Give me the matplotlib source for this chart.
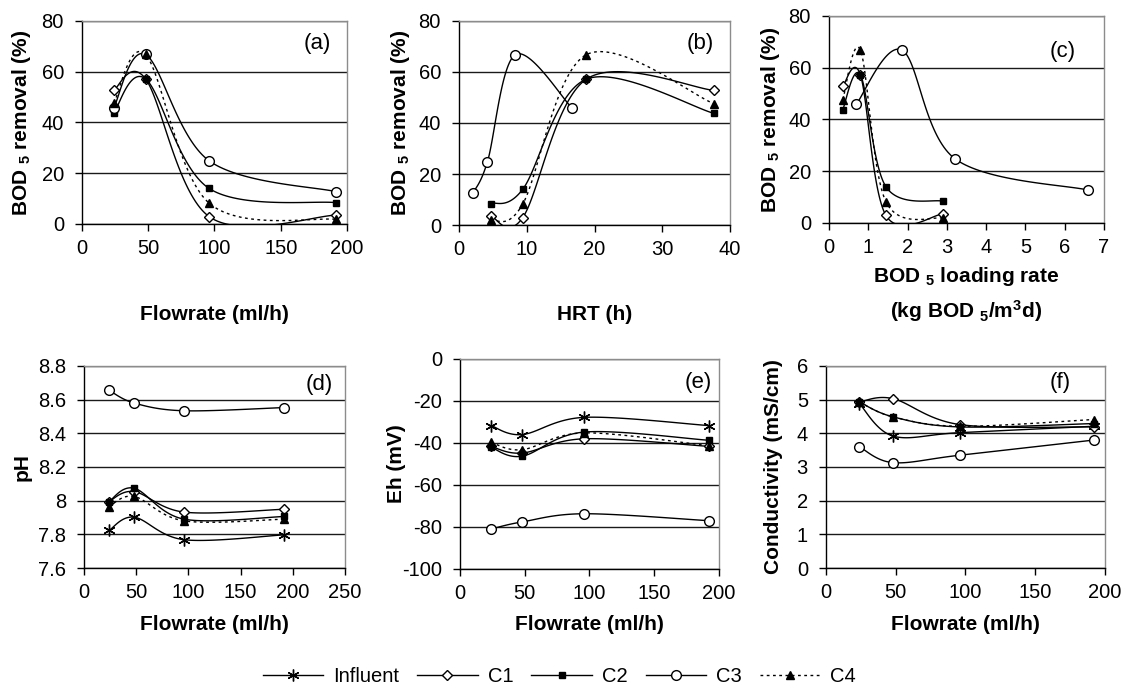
import matplotlib
matplotlib.use("Agg")
import matplotlib.pyplot as plt
import numpy as np

plt.rcParams['font.family'] = ['Liberation Sans', 'DejaVu Sans']
plt.rcParams['mathtext.fontset'] = 'custom'
plt.rcParams['mathtext.rm'] = 'Liberation Sans'
plt.rcParams['mathtext.bf'] = 'Liberation Sans:bold'
plt.rcParams['mathtext.it'] = 'Liberation Sans:italic'
plt.rcParams['axes.unicode_minus'] = False

# flowrates used in every run
flow = [24, 48, 96, 192]
hrt = [4.7, 9.4, 18.8, 37.6]          # C1, C2, C4 (flow 192, 96, 48, 24)
hrt_c3 = [2.1, 4.2, 8.3, 16.7]        # C3 (flow 192, 96, 48, 24)
olr = [0.35, 0.8, 1.45, 2.9]          # C1, C2, C4 (flow 24 .. 192)
olr_c3 = [0.69, 1.86, 3.2, 6.6]       # C3 (flow 24 .. 192)

# BOD5 removal (%) at flow 24, 48, 96, 192
bod_c1 = [52.8, 57.2, 2.9, 3.5]
bod_c2 = [43.8, 57.2, 14.0, 8.4]
bod_c3 = [45.8, 66.8, 24.9, 12.7]
bod_c4 = [47.6, 66.8, 8.2, 1.8]

# pH
ph_inf = [7.823, 7.902, 7.768, 7.797]
ph_c1 = [7.995, 8.054, 7.932, 7.949]
ph_c2 = [7.995, 8.074, 7.89, 7.906]
ph_c3 = [8.656, 8.58, 8.534, 8.553]
ph_c4 = [7.965, 8.025, 7.88, 7.89]

# Eh (mV)
eh_inf = [-31.7, -36, -27.8, -31.7]
eh_c1 = [-41.6, -44.8, -38, -41.6]
eh_c2 = [-42, -46.3, -34.8, -38.7]
eh_c3 = [-81, -77.6, -73.7, -77]
eh_c4 = [-39.7, -43.2, -35.2, -41.3]

# conductivity (mS/cm)
ec_inf = [4.88, 3.92, 4.02, 4.21]
ec_c1 = [4.93, 5.03, 4.26, 4.19]
ec_c2 = [4.93, 4.49, 4.19, 4.29]
ec_c3 = [3.6, 3.13, 3.35, 3.8]
ec_c4 = [4.93, 4.49, 4.21, 4.41]

styles = {
    'Influent': dict(marker=(6, 2, 0), ms=8.5, mfc='black', mec='black', ls='-'),
    'C1': dict(marker='D', ms=5.5, mfc='white', mec='black', ls='-'),
    'C2': dict(marker='s', ms=5, mfc='black', mec='black', ls='-'),
    'C3': dict(marker='o', ms=7, mfc='white', mec='black', ls='-'),
    'C4': dict(marker='^', ms=6, mfc='black', mec='black', ls=(0, (2, 2.5))),
}


def smooth(x, y, n=40):
    # Excel-style smoothed line (Catmull-Rom Bezier through the points)
    p = np.column_stack([x, y]).astype(float)
    q = np.vstack([p[0], p, p[-1]])
    t = np.linspace(0, 1, n)[:, None]
    segs = []
    for i in range(len(p) - 1):
        p0, p1, p2, p3 = q[i], q[i + 1], q[i + 2], q[i + 3]
        c1 = p1 + (p2 - p0) / 6
        c2 = p2 - (p3 - p1) / 6
        segs.append((1 - t) ** 3 * p1 + 3 * (1 - t) ** 2 * t * c1
                    + 3 * (1 - t) * t ** 2 * c2 + t ** 3 * p2)
    s = np.vstack(segs)
    return s[:, 0], s[:, 1]


def series(ax, x, y, name):
    st = styles[name]
    sx, sy = smooth(x, y)
    ax.plot(sx, sy, color='black', lw=1.0, ls=st['ls'], zorder=3)
    ax.plot(x, y, ls='none', marker=st['marker'], ms=st['ms'], mfc=st['mfc'],
            mec=st['mec'], mew=1.0, zorder=4)


def frame(ax, xlim, xt, ylim, yt, ylabels=None):
    ax.set_xlim(*xlim)
    ax.set_ylim(*ylim)
    ax.set_xticks(xt)
    ax.set_yticks(yt)
    if ylabels is not None:
        ax.set_yticklabels(ylabels)
    ax.grid(axis='y', color='#1a1a1a', lw=1.0)
    ax.set_axisbelow(True)
    for s in ['top', 'right']:
        ax.spines[s].set_color('#8c8c8c')
        ax.spines[s].set_linewidth(1.0)
    for s in ['left', 'bottom']:
        ax.spines[s].set_color('black')
        ax.spines[s].set_linewidth(1.0)
    ax.tick_params(direction='out', length=5, width=1, labelsize=14.5, pad=6)
    ax.tick_params(axis='y', pad=8)


fig = plt.figure(figsize=(11.21, 6.86), dpi=100)

axa = fig.add_axes([0.0731, 0.6735, 0.2364, 0.2959])
axb = fig.add_axes([0.4095, 0.6720, 0.2417, 0.2974])
axc = fig.add_axes([0.7395, 0.6750, 0.2453, 0.3017])
axd = fig.add_axes([0.0749, 0.1720, 0.2328, 0.2945])
axe = fig.add_axes([0.4103, 0.1706, 0.2310, 0.3061])
axf = fig.add_axes([0.7368, 0.1720, 0.2489, 0.2945])

lab = dict(fontsize=15, fontweight='bold')
bod_label = r'BOD $_{\mathbf{5}}$ removal (%)'
tag = dict(fontsize=16, ha='center', va='center')

# (a)
series(axa, flow, bod_c1, 'C1')
series(axa, flow, bod_c2, 'C2')
series(axa, flow, bod_c3, 'C3')
series(axa, flow, bod_c4, 'C4')
frame(axa, (0, 200), [0, 50, 100, 150, 200], (0, 80), [0, 20, 40, 60, 80])
axa.set_ylabel(bod_label, **lab)
axa.yaxis.set_label_coords(-0.185, 0.5)
axa.set_xlabel('Flowrate (ml/h)', **lab)
axa.xaxis.set_label_coords(0.5, -0.40)
axa.text(0.89, 0.89, '(a)', transform=axa.transAxes, **tag)

# (b) -- HRT rises as flowrate falls, so the flow-ordered values run backwards
series(axb, hrt, bod_c1[::-1], 'C1')
series(axb, hrt, bod_c2[::-1], 'C2')
series(axb, hrt_c3, bod_c3[::-1], 'C3')
series(axb, hrt, bod_c4[::-1], 'C4')
frame(axb, (0, 40), [0, 10, 20, 30, 40], (0, 80), [0, 20, 40, 60, 80])
axb.set_ylabel(bod_label, **lab)
axb.yaxis.set_label_coords(-0.173, 0.5)
axb.set_xlabel('HRT (h)', **lab)
axb.xaxis.set_label_coords(0.5, -0.39)
axb.text(0.89, 0.89, '(b)', transform=axb.transAxes, **tag)

# (c)
series(axc, olr, bod_c1, 'C1')
series(axc, olr, bod_c2, 'C2')
series(axc, olr_c3, bod_c3, 'C3')
series(axc, olr, bod_c4, 'C4')
frame(axc, (0, 7), range(0, 8), (0, 80), [0, 20, 40, 60, 80])
axc.set_ylabel(bod_label, **lab)
axc.yaxis.set_label_coords(-0.171, 0.5)
axc.set_xlabel('BOD $_{\\mathbf{5}}$ loading rate\n(kg BOD $_{\\mathbf{5}}$/m$^{\\mathbf{3}}$d)',
               linespacing=1.5, **lab)
axc.xaxis.set_label_coords(0.5, -0.205)
axc.text(0.85, 0.83, '(c)', transform=axc.transAxes, **tag)

# (d)
series(axd, flow, ph_inf, 'Influent')
series(axd, flow, ph_c1, 'C1')
series(axd, flow, ph_c2, 'C2')
series(axd, flow, ph_c3, 'C3')
series(axd, flow, ph_c4, 'C4')
frame(axd, (0, 250), [0, 50, 100, 150, 200, 250], (7.6, 8.8),
      [7.6, 7.8, 8.0, 8.2, 8.4, 8.6, 8.8],
      ['7.6', '7.8', '8', '8.2', '8.4', '8.6', '8.8'])
axd.set_ylabel('pH', **lab)
axd.yaxis.set_label_coords(-0.20, 0.5)
axd.set_xlabel('Flowrate (ml/h)', **lab)
axd.xaxis.set_label_coords(0.5, -0.235)
axd.text(0.90, 0.91, '(d)', transform=axd.transAxes, **tag)

# (e)
series(axe, flow, eh_inf, 'Influent')
series(axe, flow, eh_c1, 'C1')
series(axe, flow, eh_c2, 'C2')
series(axe, flow, eh_c3, 'C3')
series(axe, flow, eh_c4, 'C4')
frame(axe, (0, 200), [0, 50, 100, 150, 200], (-100, 0), [-100, -80, -60, -40, -20, 0])
axe.set_ylabel('Eh (mV)', **lab)
axe.yaxis.set_label_coords(-0.208, 0.5)
axe.set_xlabel('Flowrate (ml/h)', **lab)
axe.xaxis.set_label_coords(0.5, -0.22)
axe.text(0.92, 0.89, '(e)', transform=axe.transAxes, **tag)

# (f)
series(axf, flow, ec_inf, 'Influent')
series(axf, flow, ec_c1, 'C1')
series(axf, flow, ec_c2, 'C2')
series(axf, flow, ec_c3, 'C3')
series(axf, flow, ec_c4, 'C4')
frame(axf, (0, 200), [0, 50, 100, 150, 200], (0, 6), range(0, 7))
axf.set_ylabel('Conductivity (mS/cm)', **lab)
axf.yaxis.set_label_coords(-0.154, 0.5)
axf.set_xlabel('Flowrate (ml/h)', **lab)
axf.xaxis.set_label_coords(0.5, -0.235)
axf.text(0.84, 0.92, '(f)', transform=axf.transAxes, **tag)

# legend
handles = []
for name in ['Influent', 'C1', 'C2', 'C3', 'C4']:
    st = styles[name]
    h, = axf.plot([], [], color='black', lw=1.0, ls=st['ls'], marker=st['marker'],
                  ms=st['ms'], mfc=st['mfc'], mec=st['mec'])
    handles.append(h)
fig.legend(handles, ['Influent', 'C1', 'C2', 'C3', 'C4'], loc='center',
           bbox_to_anchor=(0.499, 0.014), ncol=5, frameon=False, fontsize=14.5,
           handlelength=3.0, handletextpad=0.5, columnspacing=0.9, borderpad=0)

fig.savefig('out.png', dpi=100)
